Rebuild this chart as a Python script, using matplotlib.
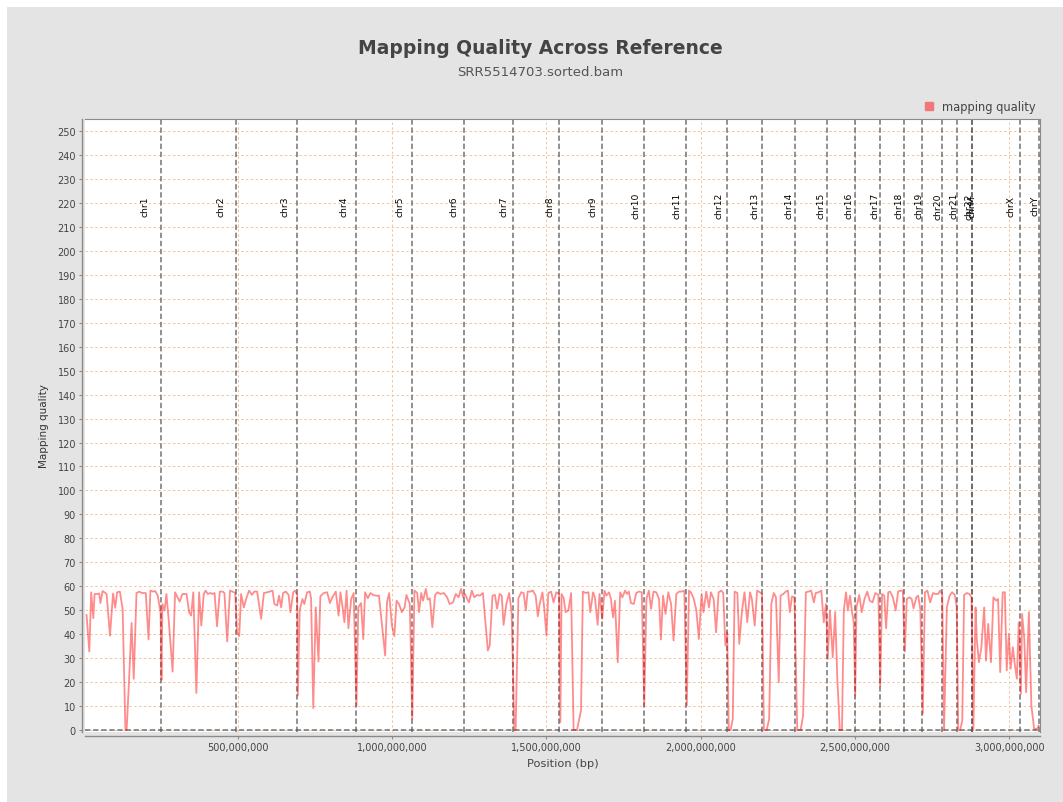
import numpy as np
import matplotlib
matplotlib.use('Agg')
import matplotlib.pyplot as plt
from matplotlib.patches import Rectangle
from matplotlib.lines import Line2D
from matplotlib.ticker import MultipleLocator, FuncFormatter

# window positions (Mb along the concatenated genome) and mapping quality
win_mb = [9, 18, 24, 31, 35, 44, 50, 54, 61, 67, 74, 85, 95, 102, 108, 117, 126, 135, 139, 147,
          155, 162, 171, 180, 188, 201, 210, 216, 225, 232, 240, 249, 252, 255, 262, 268, 275, 288, 296, 311,
          320, 333, 342, 348, 355, 365, 374, 381, 389, 395, 402, 411, 417, 424, 432, 441, 450, 456, 465, 474,
          482, 491, 497, 504, 510, 519, 528, 536, 545, 553, 562, 575, 584, 595, 603, 612, 618, 627, 633, 640,
          646, 655, 664, 670, 679, 685, 692, 694, 700, 709, 715, 724, 733, 737, 744, 752, 761, 767, 778, 789,
          798, 806, 817, 826, 832, 839, 845, 852, 858, 867, 875, 884, 890, 899, 906, 912, 921, 929, 938, 947,
          957, 966, 977, 983, 990, 999, 1007, 1014, 1022, 1031, 1040, 1046, 1057, 1065, 1072, 1081, 1087, 1094, 1100, 1109,
          1115, 1122, 1130, 1139, 1147, 1156, 1167, 1178, 1186, 1197, 1206, 1215, 1223, 1230, 1236, 1243, 1249, 1258, 1266, 1275,
          1284, 1294, 1303, 1310, 1316, 1325, 1333, 1340, 1348, 1355, 1361, 1370, 1379, 1387, 1396, 1400, 1409, 1418, 1426, 1433,
          1439, 1448, 1456, 1465, 1472, 1478, 1487, 1493, 1500, 1506, 1515, 1523, 1532, 1541, 1545, 1549, 1556, 1562, 1571, 1580,
          1588, 1599, 1612, 1618, 1627, 1636, 1642, 1651, 1657, 1666, 1672, 1681, 1688, 1694, 1703, 1709, 1716, 1722, 1731, 1739,
          1746, 1755, 1761, 1767, 1774, 1783, 1791, 1800, 1809, 1817, 1824, 1832, 1839, 1847, 1856, 1865, 1871, 1878, 1886, 1895,
          1904, 1912, 1921, 1930, 1938, 1947, 1955, 1962, 1968, 1977, 1986, 1994, 2003, 2009, 2018, 2027, 2033, 2042, 2050, 2058,
          2067, 2073, 2080, 2086, 2091, 2097, 2104, 2110, 2119, 2125, 2134, 2142, 2151, 2160, 2166, 2175, 2183, 2192, 2199, 2205,
          2214, 2222, 2229, 2237, 2244, 2253, 2259, 2268, 2276, 2283, 2289, 2296, 2304, 2313, 2324, 2332, 2341, 2350, 2358, 2367,
          2373, 2382, 2391, 2399, 2406, 2412, 2419, 2428, 2436, 2443, 2451, 2458, 2464, 2471, 2477, 2484, 2490, 2496, 2501, 2505,
          2514, 2522, 2531, 2540, 2548, 2557, 2566, 2576, 2582, 2588, 2595, 2601, 2608, 2614, 2623, 2632, 2640, 2649, 2655, 2662,
          2668, 2677, 2684, 2690, 2699, 2705, 2712, 2720, 2727, 2735, 2744, 2753, 2761, 2770, 2776, 2783, 2789, 2798, 2807, 2815,
          2824, 2830, 2835, 2841, 2848, 2854, 2863, 2871, 2878, 2884, 2891, 2895, 2902, 2910, 2919, 2925, 2932, 2941, 2949, 2958,
          2964, 2971, 2979, 2986, 2992, 2999, 3005, 3012, 3018, 3025, 3031, 3038, 3042, 3049, 3055, 3064, 3072, 3081, 3090, 3096]

mq = [48, 32.8, 57.5, 46.7, 56.8, 56.8, 57, 53, 58, 57.5, 56.8, 39.4, 57, 51, 57.5, 57.8, 50.5, 0, 0, 21.4,
      44.7, 21.4, 57.2, 57.8, 57.2, 57.2, 37.8, 58.2, 57.8, 58, 56, 49, 21, 52.6, 50, 56.8, 46.4, 24.4, 57.5, 53.6,
      56.8, 56.8, 49, 47.8, 57.5, 15.5, 57.5, 43.6, 56.8, 58.2, 56.8, 57.2, 56.8, 57.2, 43.3, 57.8, 57.8, 57.2, 37, 58.2,
      57.8, 57.2, 40.8, 39.2, 56.8, 51.2, 55.4, 58.2, 56.4, 57.8, 57.8, 46.4, 57.2, 57.5, 57.8, 58.2, 52.6, 52, 56.1, 51.2,
      57.2, 57.8, 56.4, 49.2, 57.5, 58.2, 56.4, 14.4, 50, 54.7, 52.6, 57.5, 57.8, 54.7, 9.2, 51.2, 28.6, 55.8, 57.2, 57.5,
      53, 55.4, 57.8, 47.8, 57.5, 51.2, 45, 58.2, 42.5, 54.7, 57.2, 10.3, 51.2, 53, 38, 57.5, 55, 57.2, 56.4, 56.1,
      56.1, 45, 31.1, 53.3, 57.2, 43.6, 39.2, 54, 52.6, 49.2, 51.2, 56.4, 52.6, 4.7, 58.2, 57.2, 49.2, 57.2, 54, 58.9,
      54.4, 55, 42.9, 56.4, 57.5, 56.8, 57.2, 55.4, 52.6, 53.3, 56.8, 55.4, 58.9, 55.4, 56.8, 54.7, 53.3, 58.2, 55.4, 56.4,
      56.1, 57.2, 43.6, 33.2, 35.3, 56.1, 56.4, 50.6, 56.8, 56.1, 43.9, 52.6, 57.2, 49.2, 0, 0, 55, 57.5, 57.2, 49.9,
      57.8, 57.8, 58.2, 56.1, 47.5, 52.6, 57.5, 50.6, 39.4, 57.2, 57.8, 53.3, 57.5, 56.8, 3.3, 56.8, 55, 49.2, 49.9, 57.2,
      0, 0, 8.2, 57.8, 57.2, 57.5, 49.2, 57.5, 55.4, 43.9, 56.8, 46.4, 58.2, 56.1, 57.5, 54.7, 47, 54, 28.3, 57.5,
      55.4, 58.2, 56.8, 57.8, 53, 52.6, 57.2, 57.8, 57.5, 10.3, 54.7, 58.2, 50.6, 57.8, 57.5, 54.7, 37.8, 56.1, 48.5, 57.5,
      52.6, 37.4, 56.8, 57.8, 57.8, 58.2, 10.3, 58.2, 57.5, 55, 49.9, 38, 56.8, 49.2, 57.8, 51.2, 57.5, 54.7, 40.8, 57.5,
      58.2, 57.2, 35.3, 40.8, 0, 0, 4.7, 57.8, 57.2, 36, 49.9, 57.5, 45, 57.5, 54.7, 43.6, 58.2, 57.5, 56.8, 0,
      0, 4.7, 52.6, 57.2, 55.4, 20, 56.1, 56.8, 57.8, 58.2, 49.2, 55.8, 55.4, 0, 0, 6.1, 57.5, 57.8, 58.2, 53.3,
      57.2, 57.5, 58.2, 45, 52.6, 29.7, 49.9, 30.4, 49.2, 21.4, 0, 0, 49.9, 57.5, 49.9, 56.1, 49.9, 45, 14.4, 51.2,
      56.4, 49.2, 54.7, 57.8, 54, 53.3, 57.2, 56.4, 18.3, 56.8, 56.1, 42.5, 57.5, 57.8, 55.4, 49.9, 57.8, 58.2, 58.2, 32.8,
      54.7, 55.4, 54.7, 50.8, 55.4, 56.1, 50.6, 6.8, 57.5, 58.2, 53.3, 57.2, 56.8, 56.8, 58.2, 56.8, 0, 51.2, 56.1, 57.5,
      56.4, 51.2, 0, 0, 4, 56.4, 57.2, 56.8, 55.4, 0, 51.2, 38, 28.3, 34.6, 51.2, 29, 44.3, 28.3, 55.4, 54,
      54.7, 24.2, 57.5, 57.5, 24.9, 40.1, 25.6, 34.6, 27.6, 21.4, 45, 15.1, 48.5, 38, 15.8, 49.2, 10.3, 0.5, 0.5, 1.9]

# reference sequences in the order of the bam header (hg19)
chrom_names = ['chr1', 'chr2', 'chr3', 'chr4', 'chr5', 'chr6', 'chr7', 'chr8', 'chr9', 'chr10',
               'chr11', 'chr12', 'chr13', 'chr14', 'chr15', 'chr16', 'chr17', 'chr18', 'chr19', 'chr20',
               'chr21', 'chr22', 'chrM', 'chrX', 'chrY']
chrom_len = [249250621, 243199373, 198022430, 191154276, 180915260, 171115067, 159138663, 146364022,
             141213431, 135534747, 135006516, 133851895, 115169878, 107349540, 102531392, 90354753,
             81195210, 78077248, 59128983, 63025520, 48129895, 51304566, 16571, 155270560, 59373566]

xtick_vals = [5e8, 1e9, 1.5e9, 2e9, 2.5e9, 3e9]

title = 'Mapping Quality Across Reference'
subtitle = 'SRR5514703.sorted.bam'

W, H = 1063, 803
fig = plt.figure(figsize=(W / 100, H / 100), dpi=100, facecolor='white')
# grey chart background, thin white strip on top/left like the original screenshot
fig.patches.append(Rectangle((7 / W, 0), 1, (H - 8) / H, transform=fig.transFigure,
                             facecolor='#e4e4e4', edgecolor='none', zorder=-10))

ax = fig.add_axes([85 / W, (H - 733) / H, 955 / W, 613 / H])
ax.set_facecolor('white')

x = np.array(win_mb) * 1e6
y = np.array(mq)

ends = np.cumsum(chrom_len)
starts = ends - np.array(chrom_len)

# grid
grid_c = '#f2c49a'
for v in range(0, 260, 10):
    ax.axhline(v, color=grid_c, lw=0.7, ls=(0, (2.5, 2.5)), zorder=0)
for v in xtick_vals:
    ax.axvline(v, color=grid_c, lw=0.7, ls=(0, (2.5, 2.5)), zorder=0)

# chromosome boundaries
for e in ends:
    ax.axvline(e, color='#5a5a5a', lw=1.1, ls=(0, (3.5, 1.8)), alpha=0.85, zorder=1)
ax.axhline(0, color='#5a5a5a', lw=1.1, ls=(0, (3.5, 1.8)), alpha=0.85, zorder=1)

for name, s, l in zip(chrom_names, starts, chrom_len):
    ax.text(s + 0.8 * l, 219, name, rotation=90, ha='center', va='center',
            fontsize=6.6, color='black', zorder=3)

ax.plot(x, y, color='#ff0000', alpha=0.45, lw=1.3, zorder=2)

ax.set_xlim(4e6, 3.1e9)
ax.set_ylim(-0.8, 255)
ax.yaxis.set_major_locator(MultipleLocator(10))
ax.set_xticks(xtick_vals)
ax.xaxis.set_major_formatter(FuncFormatter(lambda v, p: f'{v:,.0f}'))

for side in ['top', 'right']:
    ax.spines[side].set_color('#8a8a8a')
    ax.spines[side].set_linewidth(0.8)
ax.spines['left'].set_position(('outward', 2))
ax.spines['bottom'].set_position(('outward', 3))
for side in ['left', 'bottom']:
    ax.spines[side].set_color('#8a8a8a')
    ax.spines[side].set_linewidth(1.0)
ax.tick_params(axis='both', labelsize=7, colors='#444444', length=2.5, width=0.8, pad=2)
ax.tick_params(axis='both', color='#8a8a8a')

ax.set_xlabel('Position (bp)', fontsize=8.2, color='#444444', labelpad=4)
ax.set_ylabel('Mapping quality', fontsize=7.5, color='#333333', labelpad=6)

fig.text(540 / W, 1 - 49 / H, title, ha='center', va='center', fontsize=13.5,
         fontweight='bold', color='#444444')
fig.text(540 / W, 1 - 73 / H, subtitle, ha='center', va='center', fontsize=9.5, color='#555555')

handle = Line2D([], [], marker='s', ls='none', markersize=5.5, color='#f07878')
fig.legend([handle], ['mapping quality'], loc='center right', bbox_to_anchor=(1041 / W, 1 - 108 / H),
           frameon=False, fontsize=8.3, handletextpad=0.1, borderpad=0, labelcolor='#444444')

plt.savefig('out.png', dpi=100, facecolor=fig.get_facecolor())
